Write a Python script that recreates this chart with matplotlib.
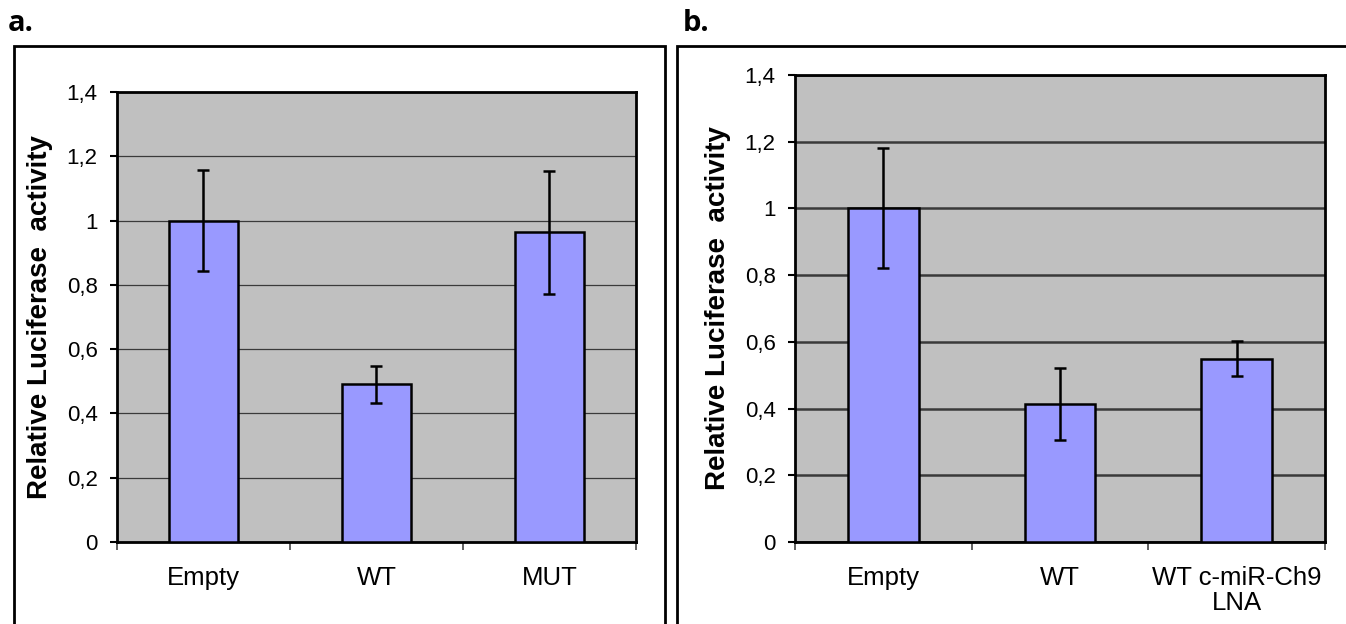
import matplotlib
matplotlib.use("Agg")
from matplotlib import pyplot as plt
from matplotlib.patches import Rectangle

# panel a
categories_a = ["Empty", "WT", "MUT"]
values_a = [1.0, 0.49, 0.963]
errors_a = [0.158, 0.058, 0.19]

# panel b
categories_b = ["Empty", "WT", "WT c-miR-Ch9\nLNA"]
values_b = [1.0, 0.415, 0.55]
errors_b = [0.18, 0.108, 0.053]

y_ticks = [0, 0.2, 0.4, 0.6, 0.8, 1.0, 1.2, 1.4]
y_tick_labels = ["0", "0,2", "0,4", "0,6", "0,8", "1", "1,2", "1,4"]

BAR_COLOR = "#9999FF"
PLOT_BG = "#C0C0C0"
FONT = "Liberation Sans"

plt.rcParams["font.family"] = [FONT, "DejaVu Sans"]


def draw_panel(ax, categories, values, errors, grid_lw):
    x = list(range(len(categories)))
    ax.set_facecolor(PLOT_BG)
    ax.set_axisbelow(True)
    ax.yaxis.grid(True, color="#3a3a3a", linewidth=grid_lw)
    ax.bar(x, values, width=0.4, color=BAR_COLOR, edgecolor="black", linewidth=1.8,
           yerr=errors, capsize=4, error_kw={"elinewidth": 1.8, "capthick": 1.8, "ecolor": "black"},
           zorder=3)
    ax.set_xlim(-0.5, len(categories) - 0.5)
    ax.set_ylim(0, 1.4)
    ax.set_yticks(y_ticks)
    ax.set_yticklabels(y_tick_labels, fontsize=16)
    ax.set_xticks(x)
    ax.set_xticklabels(categories, fontsize=18.5, linespacing=1.05)
    ax.tick_params(axis="x", length=0, pad=17)
    # category separators below the axis
    ax.set_xticks([i - 0.5 for i in range(len(categories) + 1)], minor=True)
    ax.tick_params(axis="x", which="minor", length=6, width=1.2, color="#444444", direction="out")
    ax.tick_params(axis="y", length=5, width=1.5, direction="out", pad=9)
    for sp in ax.spines.values():
        sp.set_linewidth(2)
        sp.set_color("black")
    ax.set_ylabel("Relative Luciferase  activity", fontsize=20, fontweight="bold", labelpad=10)


fig = plt.figure(figsize=(13.46, 6.24), dpi=100)

# outer frames
fig.patches.append(Rectangle((0.0104, -0.01), 0.4837, 0.936, transform=fig.transFigure,
                             fill=False, edgecolor="black", linewidth=2))
fig.patches.append(Rectangle((0.503, -0.01), 0.5, 0.936, transform=fig.transFigure,
                             fill=False, edgecolor="black", linewidth=2))

ax_a = fig.add_axes([0.0869, 0.1314, 0.3856, 0.7212])
draw_panel(ax_a, categories_a, values_a, errors_a, 0.9)

ax_b = fig.add_axes([0.5906, 0.1314, 0.3938, 0.7484])
draw_panel(ax_b, categories_b, values_b, errors_b, 1.8)

fig.text(0.006, 0.962, "a.", fontsize=21, fontweight="bold", family="Open Sans", va="center")
fig.text(0.507, 0.962, "b.", fontsize=21, fontweight="bold", family="Open Sans", va="center")

fig.savefig("out.png", dpi=100)
